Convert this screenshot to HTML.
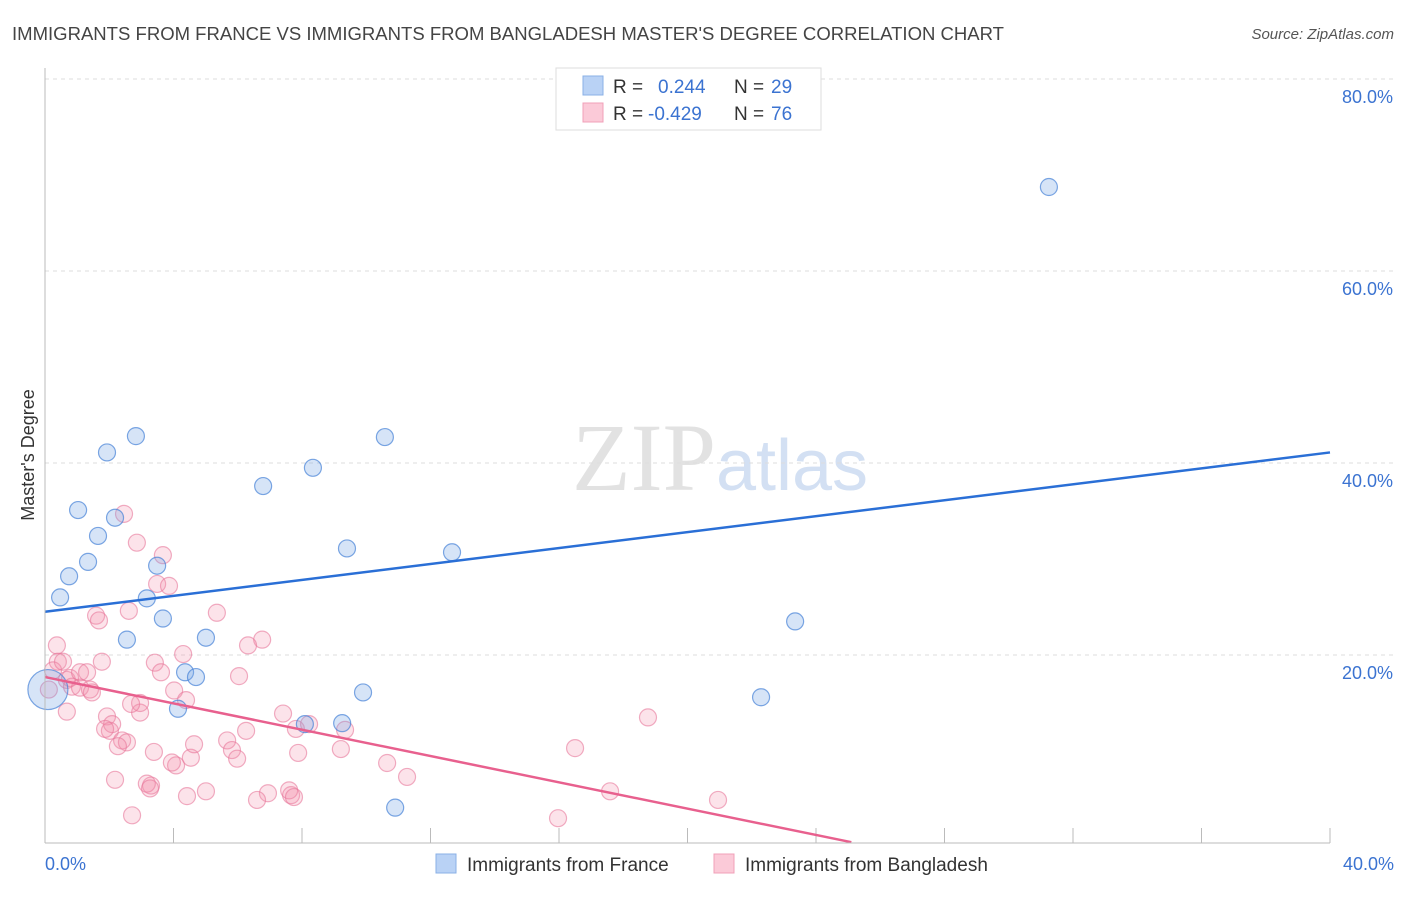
<!DOCTYPE html>
<html><head><meta charset="utf-8"><style>
body{margin:0;background:#fff;font-family:"Liberation Sans",sans-serif;}
</style></head><body>
<svg id="chart" width="1406" height="892" xmlns="http://www.w3.org/2000/svg" font-family="Liberation Sans, sans-serif">
<text x="12" y="40" font-size="18" fill="#444" textLength="992" lengthAdjust="spacingAndGlyphs">IMMIGRANTS FROM FRANCE VS IMMIGRANTS FROM BANGLADESH MASTER'S DEGREE CORRELATION CHART</text>
<text x="1394" y="39" font-size="15" fill="#555" font-style="italic" text-anchor="end">Source: ZipAtlas.com</text>
<text x="720" y="490" font-size="96" fill="#e2e2e2" text-anchor="middle" font-family="Liberation Serif, serif">ZIP<tspan fill="#d3e0f3" font-family="Liberation Sans, sans-serif" font-size="72">atlas</tspan></text>
<text transform="translate(34,455) rotate(-90)" font-size="18" fill="#333" text-anchor="middle">Master's Degree</text>
<g id="grid"></g><g id="pts"></g><g id="trend"></g>
<line x1="45" y1="68" x2="45" y2="843" stroke="#bbb"/>
<line x1="45" y1="843" x2="1330" y2="843" stroke="#bbb"/>
<text x="45" y="870" font-size="18" fill="#3b73d1">0.0%</text>
<text x="1394" y="870" font-size="18" fill="#3b73d1" text-anchor="end">40.0%</text>
<g>
<rect x="556" y="68" width="265" height="62" fill="#fff" stroke="#ddd"/>
<rect x="583" y="76" width="20" height="19" fill="#b9d2f5" stroke="#8ab0e6"/>
<rect x="583" y="103" width="20" height="19" fill="#fbcad8" stroke="#f0a0b8"/>
<text x="613" y="93" font-size="19" fill="#333">R =</text><text x="658" y="93" font-size="19" fill="#3b73d1">0.244</text>
<text x="734" y="93" font-size="19" fill="#333">N =</text><text x="771" y="93" font-size="19" fill="#3b73d1">29</text>
<text x="613" y="120" font-size="19" fill="#333">R =</text><text x="648" y="120" font-size="19" fill="#3b73d1">-0.429</text>
<text x="734" y="120" font-size="19" fill="#333">N =</text><text x="771" y="120" font-size="19" fill="#3b73d1">76</text>
</g>
<g>
<rect x="436" y="854" width="20" height="19" fill="#b9d2f5" stroke="#8ab0e6"/>
<text x="467" y="871" font-size="19" fill="#333">Immigrants from France</text>
<rect x="714" y="854" width="20" height="19" fill="#fbcad8" stroke="#f0a0b8"/>
<text x="745" y="871" font-size="19" fill="#333">Immigrants from Bangladesh</text>
</g>
</svg>
<script>
const yTicks=[20,40,60,80];
const yTickLabels=["20.0%","40.0%","60.0%","80.0%"];
const xTicks=[0,4,8,12,16,20,24,28,32,36,40];
const franceX=[0.09,0.47,0.75,1.03,1.34,1.65,1.93,2.18,2.83,3.17,3.49,3.67,4.36,4.14,4.70,5.01,6.79,8.34,9.40,9.25,9.90,10.58,10.90,12.67,8.09,22.29,23.35,31.25,2.55];
const franceY=[16.4,26.0,28.2,35.1,29.7,32.4,41.1,34.3,42.8,25.9,29.3,23.8,18.2,14.4,17.7,21.8,37.6,39.5,31.1,12.9,16.1,42.7,4.1,30.7,12.8,15.6,23.5,68.75,21.6];
const bangX=[0.37,0.40,0.25,0.56,0.68,0.78,1.09,0.84,1.09,1.40,1.31,1.46,1.77,0.68,0.12,1.59,1.68,2.61,2.46,2.86,3.67,3.49,3.86,1.93,2.02,2.09,1.87,2.40,2.55,2.27,2.96,2.96,3.42,4.30,3.61,4.02,4.39,3.39,4.08,3.30,3.17,3.27,2.18,2.71,3.95,4.54,4.64,4.42,5.01,5.35,5.67,5.82,5.98,6.26,6.04,6.76,6.32,6.94,6.60,7.41,7.81,8.22,7.88,7.66,7.60,7.75,9.21,9.34,10.65,11.27,16.50,18.77,17.59,15.97,20.95,2.68];
const bangY=[21.0,19.3,18.4,19.3,17.4,17.6,18.2,16.7,16.6,16.4,18.2,16.1,19.3,14.1,16.4,24.1,23.6,24.6,34.7,31.7,30.4,27.4,27.2,13.6,12.1,12.8,12.3,11.1,10.9,10.5,14.0,15.0,19.2,20.1,18.2,16.3,15.3,9.9,8.5,6.4,6.6,6.1,7.0,3.3,8.8,9.3,10.7,5.3,5.8,24.4,11.1,10.1,9.2,12.1,17.8,21.6,21.0,5.6,4.9,13.9,12.3,12.8,9.8,5.4,5.9,5.2,10.2,12.2,8.75,7.3,10.3,13.5,5.8,3.0,4.9,14.9];
const franceTrend=[[0,24.5],[40,41.1]];
const bangTrend=[[0,17.7],[25.1,0.5]];
const NS="http://www.w3.org/2000/svg";
const sx=v=>45+v*1285/40;
const sy=v=>847-v*9.6;
function mk(tag,attrs,parent){const e=document.createElementNS(NS,tag);for(const k in attrs)e.setAttribute(k,attrs[k]);parent.appendChild(e);return e;}
const grid=document.getElementById('grid');
yTicks.forEach((t,i)=>{
  const l=mk('line',{x1:45,x2:1394,y1:sy(t),y2:sy(t),stroke:'#ddd','stroke-dasharray':'4,4'},grid);
  
  
  const tx=mk('text',{x:1393,y:sy(t)+24,'font-size':18,fill:'#3b73d1','text-anchor':'end'},grid);
  tx.textContent=yTickLabels[i];
  
  
});
xTicks.forEach(t=>{
  const l=mk('line',{x1:sx(t),x2:sx(t),y1:828,y2:843,stroke:'#bbb'},grid);
  
  
});
const pts=document.getElementById('pts');
bangX.forEach((x,i)=>{
  const c=mk('circle',{cx:sx(x),cy:sy(bangY[i]),r:8.5,fill:'rgba(244,143,172,0.25)',stroke:'rgba(232,120,155,0.6)','stroke-width':1.2},pts);
  
  
});
franceX.forEach((x,i)=>{
  const c=mk('circle',{cx:sx(x),cy:sy(franceY[i]),r:i===0?20:8.5,fill:'rgba(120,165,230,0.3)',stroke:'rgba(70,130,215,0.7)','stroke-width':1.2},pts);
  
  
});
const tr=document.getElementById('trend');
const l1=mk('line',{x1:sx(franceTrend[0][0]),y1:sy(franceTrend[0][1]),x2:sx(franceTrend[1][0]),y2:sy(franceTrend[1][1]),stroke:'#2a6fd6','stroke-width':2.5},tr);


const l2=mk('line',{x1:sx(bangTrend[0][0]),y1:sy(bangTrend[0][1]),x2:sx(bangTrend[1][0]),y2:sy(bangTrend[1][1]),stroke:'#e8608e','stroke-width':2.5},tr);


</script>
</body></html>
